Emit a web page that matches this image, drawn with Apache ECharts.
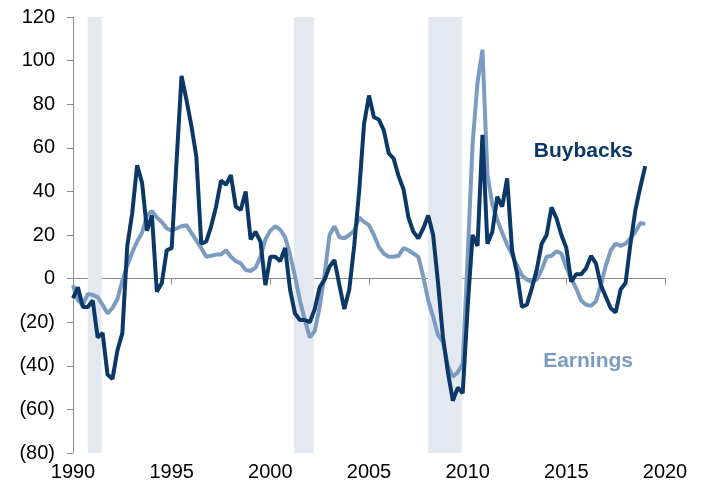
<!DOCTYPE html>
<html>
<head>
<meta charset="utf-8">
<script src="https://cdn.jsdelivr.net/npm/echarts@6/dist/echarts.min.js"></script>
<style>
  html, body { margin: 0; padding: 0; background: #fff; }
  #chart { width: 705px; height: 492px; }
</style>
</head>
<body>
<div id="chart"></div>
<script>
// quarterly, first point 1990 Q1
const startYear = 1990
const buybacks = [
    -9, -4, -13, -13,
    -10, -27, -25, -44,
    -46, -33, -25, 15,
    30, 52, 44, 22,
    29, -6, -2, 13,
    14, 54, 93, 82,
    70, 56, 16, 17,
    24, 33, 45, 43,
    47.5, 33, 31.5, 40,
    18, 21.5, 17, -3,
    10, 10, 8, 14,
    -5, -16, -19, -19,
    -20, -14, -4, -0.5,
    5.5, 8.5, -3, -14,
    -5, 15, 40, 71,
    84, 74, 73, 68,
    57.5, 55, 47, 41,
    28, 21.5, 18.5, 23,
    29, 20, -2, -27,
    -43, -56, -50, -52.5,
    -13, 20, 15, 66,
    16, 21.5, 37.5, 33,
    46, 13, 2.5, -13,
    -12, -4.5, 4, 16,
    20, 32.7, 27.7, 20,
    14, -1.4, 2, 2,
    4.7, 10.4, 7, -3,
    -8.3, -13.6, -15.5, -5,
    -2, 16, 31.5, 42,
    51.6,
]
const earnings = [
    -3, -10, -12, -7,
    -7.5, -8.5, -12, -16,
    -13.5, -9.5, -1, 6,
    12, 17, 21, 29,
    31, 28, 26, 23,
    22, 23, 24, 24.5,
    21, 17.5, 14, 10,
    10.5, 11, 11, 13,
    10, 8, 7, 4,
    3.5, 5, 10, 18,
    22, 24, 22.5, 19,
    11, 1, -10, -19,
    -27, -24, -13, 2,
    20, 24, 19, 18.5,
    20, 22, 28, 26,
    24.5, 20, 14.5, 11.5,
    10, 10, 10.5, 14,
    13, 11.5, 10, 1,
    -10, -17.5, -26, -29,
    -40, -45, -43, -39,
    10, 62, 90, 105,
    48, 34, 27, 21,
    15.5, 11, 6, 1.5,
    -0.5, -1.5, -0.5, 4,
    10, 10.5, 12.5, 11.5,
    5, 0, -4.5, -10,
    -12, -12.5, -10.5, -3,
    6, 13, 16, 15,
    16, 18.5, 21.5, 25.5,
    25,
]
// recession periods (start, end)
const recessions = [
    [1990.75, 1991.45],
    [2001.2, 2002.2],
    [2008.0, 2009.7],
]

const navy = '#0b3866'
const steel = '#7b9bc1'
const font = 'Liberation Sans, Arial, sans-serif'

const toPairs = arr => arr.map((v, i) => [startYear + i / 4, v])

var myChart = echarts.init(document.getElementById('chart'))
var option = {
    animation: false,
    grid: {
        left: 73,
        right: 40,
        top: 17,
        bottom: 39,
    },
    xAxis: [
        {
            type: 'value',
            min: 1990,
            max: 2020,
            interval: 5,
            position: 'bottom',
            axisLine: { show: false, onZero: false },
            axisTick: { show: false },
            splitLine: { show: false },
            axisLabel: {
                fontSize: 20,
                fontFamily: font,
                color: '#000',
                margin: 9,
                formatter: v => String(v),
            },
        },
        {
            type: 'value',
            min: 1990,
            max: 2020,
            interval: 5,
            position: 'top',
            axisLine: {
                show: true,
                onZero: true,
                lineStyle: { color: '#8c8c8c', width: 1 },
            },
            axisTick: {
                show: true,
                inside: true,
                length: 6,
                lineStyle: { color: '#8c8c8c' },
            },
            axisLabel: { show: false },
            splitLine: { show: false },
        },
    ],
    yAxis: {
        type: 'value',
        min: -80,
        max: 120,
        interval: 20,
        axisLine: {
            show: true,
            lineStyle: { color: '#8c8c8c', width: 1 },
        },
        axisTick: {
            show: true,
            length: 6,
            lineStyle: { color: '#8c8c8c' },
        },
        splitLine: { show: false },
        axisLabel: {
            fontSize: 20,
            fontFamily: font,
            color: '#000',
            margin: 18,
            formatter: v => (v < 0 ? '(' + -v + ')' : String(v)),
        },
    },
    graphic: [
        {
            type: 'text',
            right: 72,
            top: 141,
            style: {
                text: 'Buybacks',
                fill: navy,
                font: 'bold 21px ' + font,
            },
        },
        {
            type: 'text',
            right: 72,
            top: 351,
            style: {
                text: 'Earnings',
                fill: steel,
                font: 'bold 21px ' + font,
            },
        },
    ],
    series: [
        {
            name: 'Earnings',
            type: 'line',
            xAxisIndex: 0,
            data: toPairs(earnings),
            symbol: 'none',
            lineStyle: { color: steel, width: 4 },
            z: 2,
            markArea: {
                silent: true,
                itemStyle: { color: '#e3e8f1' },
                data: recessions.map(r => [{ xAxis: r[0] }, { xAxis: r[1] }]),
            },
        },
        {
            name: 'Buybacks',
            type: 'line',
            xAxisIndex: 0,
            data: toPairs(buybacks),
            symbol: 'none',
            lineStyle: { color: navy, width: 4 },
            z: 3,
        },
    ],
}
myChart.setOption(option)
</script>
</body>
</html>
